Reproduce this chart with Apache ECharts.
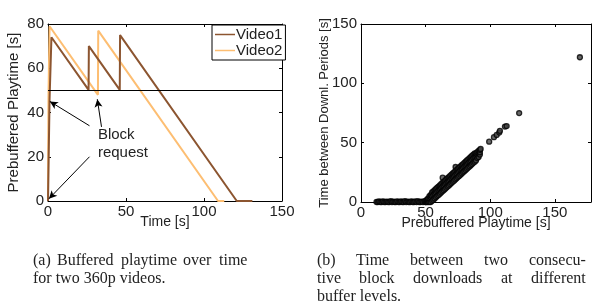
<!DOCTYPE html>
<html><head><meta charset="utf-8">
<script src="https://cdn.jsdelivr.net/npm/echarts@6/dist/echarts.min.js"></script>
<style>html,body{margin:0;padding:0;background:#fff}#c{width:596px;height:308px}</style>
</head><body><div id="c"></div>
<script>
// ---- Panel (a) data: [time s, prebuffered playtime s]
var video1 = [[0,0],[0.6,0],[1,46],[2.2,74],[26,50.2],[26.2,70],[46,50.2],[46.2,75],[121,0],[131,0]];
var video2 = [[0,0],[0.3,47],[1,79],[32,48],[32.2,77],[109,0],[113,0]];
var thresholdLevel = 50;
// ---- Panel (b) data: [prebuffered playtime s, time between downloads s]
var flatX = [12,13,14,15,16,17,18,19,20,21,22,23,24,25,26,27,28,29,30,31,32,33,34,35,36,37,38,39,40,41,42,43,44,45,46,47,48,49,50];
var flatY = [0,0,0.5,0,0,0.6,0,0,0.4,0,0,0.7,0,0.3,0,0,0.6,0,0,0.5,0,0,0.8,0,0.4,0,0,0.6,0,0,0.5,0,0.7,0,0,0.4,0,0.6,0];
var bandPts = [
[50,0],[50,1],[51,0],[51,1],[51,2],[52,0],[52,2],[52,3],[53,0],[53,3],[53,5],[54,0],[54,4],[54,6],
[55,1],[55,5],[55,8],[56,2],[56,6],[56,9],[57,3],[57,7],[57,10],[58,4],[58,8],[58,11],[59,5],[59,9],[59,12],
[60,6],[60,10],[60,13],[61,7],[61,11],[61,14],[62,8],[62,12],[62,15],[63,9],[63,13],[63,16],[63.2,20.5],
[64,10],[64,14],[64,17],[65,11],[65,15],[65,18],[66,12],[66,16],[66,19],[67,13],[67,17],[67,20],
[68,14],[68,18],[68,21],[69,15],[69,19],[69,22],[70,16],[70,20],[70,23],[71,17],[71,21],[71,24],
[72,18],[72,22],[72,25],[73,19],[73,23],[73,26],[73.2,29.5],[74,20],[74,24],[74,27],[75,21],[75,25],[75,28],
[76,22],[76,26],[76,29],[77,23],[77,27],[77,30],[78,24],[78,28],[78,31],[79,25],[79,29],[79,32],
[80,26],[80,30],[80,33],[81,27],[81,31],[81,34],[82,28],[82,32],[82,35],[83,29],[83,33],[83,36],
[84,30],[84,34],[84,37],[85,31],[85,35],[85,38],[86,32],[86,36],[86,39],[87,33],[87,37],[87,40],
[88,34],[88,38],[88,41],[89,35],[89,39],[89,41],[90,37],[90,40],[90,42],[91,38],[91,41],[91,43],
[92,40],[92,42],[92,44],[92.6,44.7]
];
var sparsePts = [[99.2,50.8],[102.9,54.6],[105,56.5],[107,58.5],[107.5,60],[111.4,63.6],[112.7,64],[122.4,74.9],[169.4,122]];
// ---- captions
var captionA = ['(a) Buffered playtime over time', 'for two 360p videos.'];
var captionB = ['(b) Time between two consecu-', 'tive block downloads at different', 'buffer levels.'];

var scatterB = flatX.map(function(x,i){return [x, flatY[i]];}).concat(bandPts, sparsePts);

var sans = 'Liberation Sans, Arial, sans-serif';
var serif = '"Liberation Serif", "DejaVu Serif", serif';

function xAxis(grid, max, interval, name, top) {
  return {
    type:'value', gridIndex:grid, min:0, max:max, interval:interval, position: top?'top':'bottom',
    name: top? '' : name, nameLocation:'middle', nameGap:14, nameMoveOverlap:false,
    nameTextStyle:{color:'#222', fontFamily:sans, fontSize:14, verticalAlign:'top'},
    axisLine:{show:true, onZero:false, lineStyle:{color:'#000', width:1}},
    axisTick:{show:true, inside:true, length:3, lineStyle:{color:'#000'}},
    axisLabel:{show:!top, margin:3, color:'#222', fontFamily:sans, fontSize:15,
      formatter:function(v){ return v % interval === 0 ? String(v) : ''; }},
    splitLine:{show:false}
  };
}
function yAxis(grid, max, interval, name, right, nameSize, nameGap) {
  return {
    type:'value', gridIndex:grid, min:0, max:max, interval:interval, position: right?'right':'left',
    name: right? '' : name, nameLocation:'middle', nameGap:nameGap, nameMoveOverlap:false,
    nameTextStyle:{color:'#222', fontFamily:sans, fontSize:nameSize},
    axisLine:{show:true, onZero:false, lineStyle:{color:'#000', width:1}},
    axisTick:{show:true, inside:true, length:3, lineStyle:{color:'#000'}},
    axisLabel:{show:!right, margin:4, color:'#222', fontFamily:sans, fontSize:15},
    splitLine:{show:false}
  };
}

// justified caption lines
var measureCtx = document.createElement('canvas').getContext('2d');
function captionGraphics(lines, x, top, width, lineH, size) {
  var font = size + 'px ' + serif;
  measureCtx.font = font;
  var out = [];
  lines.forEach(function(line, li){
    var y = top + li * lineH;
    if (li === lines.length - 1) {
      out.push({type:'text', left:x, top:y, style:{text:line, font:font, fill:'#222'}});
      return;
    }
    var words = line.split(' ');
    var total = 0;
    words.forEach(function(w){ total += measureCtx.measureText(w).width; });
    var gap = (width - total) / (words.length - 1);
    var cx = x;
    words.forEach(function(w){
      out.push({type:'text', left:Math.round(cx), top:y, style:{text:w, font:font, fill:'#222'}});
      cx += measureCtx.measureText(w).width + gap;
    });
  });
  return out;
}

var chart = echarts.init(document.getElementById('c'), null, {renderer:'canvas'});
var arrowStyle = {color:'#000', width:1, type:'solid'};
chart.setOption({
  animation:false,
  backgroundColor:'#fff',
  grid:[
    {left:48, top:24, width:234, height:177},
    {left:361, top:24, width:230, height:178}
  ],
  xAxis:[
    xAxis(0,150,50,'Time [s]',false),
    xAxis(0,150,50,'',true),
    xAxis(1,178,50,'Prebuffered Playtime [s]',false),
    xAxis(1,178,50,'',true)
  ],
  yAxis:[
    yAxis(0,80,20,'Prebuffered Playtime [s]',false,15,27),
    yAxis(0,80,20,'',true,15,27),
    yAxis(1,150,50,'Time between Downl. Periods [s]',false,13,30),
    yAxis(1,150,50,'',true,13,30)
  ],
  legend:{
    left:212, top:25, orient:'vertical', padding:[2,3,2,3], itemGap:1,
    backgroundColor:'#fff', borderColor:'#000', borderWidth:1, borderRadius:0,
    icon:'rect', itemWidth:20, itemHeight:1.5,
    textStyle:{color:'#222', fontFamily:sans, fontSize:15, padding:[0,0,0,-4]},
    data:['Video1','Video2']
  },
  series:[
    {name:'Video1', type:'line', xAxisIndex:0, yAxisIndex:0, data:video1, showSymbol:false,
     lineStyle:{color:'#8c5530', width:2}, itemStyle:{color:'#8c5530'}, z:3,
     markLine:{silent:true, symbol:['none','none'], lineStyle:{color:'#000', width:1, type:'solid'},
       label:{show:false}, data:[{yAxis:thresholdLevel}]}},
    {name:'Video2', type:'line', xAxisIndex:0, yAxisIndex:0, data:video2, showSymbol:false,
     lineStyle:{color:'#fdbe72', width:2}, itemStyle:{color:'#fdbe72'}, z:2,
     markLine:{silent:true, symbol:['none','arrow'], symbolSize:[6,8], lineStyle:arrowStyle, label:{show:false},
       data:[
         [{coord:[26.6,34]},{coord:[1.2,45]}],
         [{coord:[26.6,20]},{coord:[0.6,1]}],
         [{coord:[34.3,33.5]},{coord:[31.6,46]}]
       ]},
     markPoint:{silent:true, symbol:'rect', symbolSize:0,
       data:[{coord:[32,25.8], value:0}],
       label:{show:true, formatter:'Block\nrequest', align:'left', verticalAlign:'middle', offset:[0,0],
         color:'#222', fontFamily:sans, fontSize:15, lineHeight:18}}},
    {name:'scatter', type:'scatter', xAxisIndex:2, yAxisIndex:2, data:scatterB, symbol:'circle', symbolSize:5,
     itemStyle:{color:'#444', borderColor:'#000', borderWidth:1.3}}
  ],
  graphic: captionGraphics(captionA, 33, 253, 214, 18, 16).concat(captionGraphics(captionB, 317, 253, 269, 18, 16))
});
</script></body></html>
